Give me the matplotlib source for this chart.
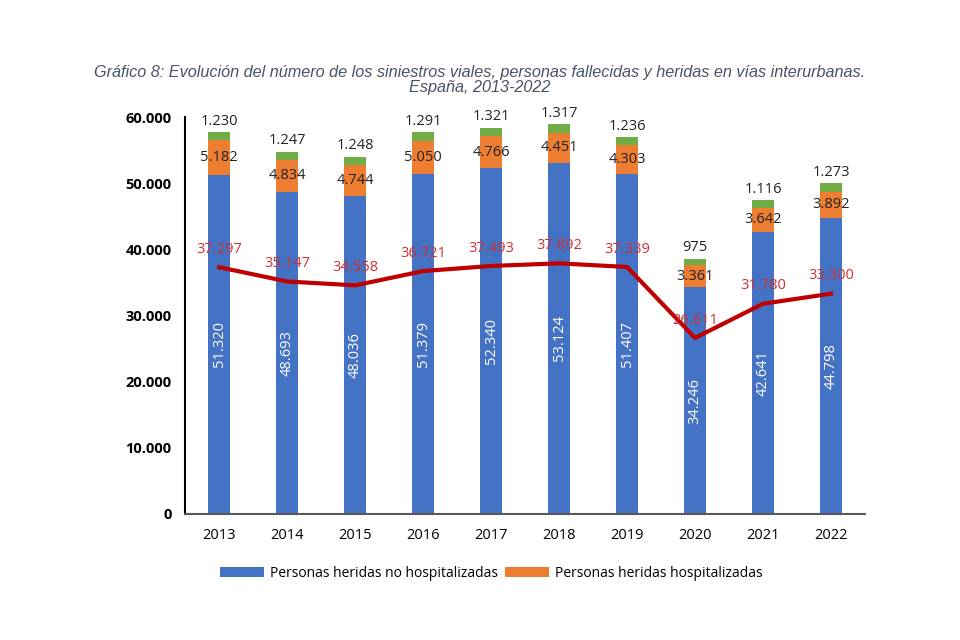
import matplotlib.pyplot as plt
from matplotlib.ticker import FuncFormatter

years = ["2013", "2014", "2015", "2016", "2017", "2018", "2019", "2020", "2021", "2022"]
no_hosp = [51320, 48693, 48036, 51379, 52340, 53124, 51407, 34246, 42641, 44798]
hosp = [5182, 4834, 4744, 5050, 4766, 4451, 4303, 3361, 3642, 3892]
fallecidas = [1230, 1247, 1248, 1291, 1321, 1317, 1236, 975, 1116, 1273]
siniestros = [37297, 35147, 34558, 36721, 37493, 37892, 37339, 26611, 31780, 33300]

BLUE = "#4472C4"
ORANGE = "#ED7D31"
GREEN = "#70AD47"
RED = "#C00000"


def miles(v):
    return f"{int(v):,}".replace(",", ".")


plt.rcParams["font.family"] = ["Open Sans", "DejaVu Sans"]

fig = plt.figure(figsize=(9.6, 6.4), dpi=100)
ax = fig.add_axes([0.193, 0.197, 0.708, 0.620])

x = list(range(len(years)))
w = 0.32
bottom2 = [a + b for a, b in zip(no_hosp, hosp)]
ax.bar(x, no_hosp, w, color=BLUE, label="Personas heridas no hospitalizadas")
ax.bar(x, hosp, w, bottom=no_hosp, color=ORANGE, label="Personas heridas hospitalizadas")
ax.bar(x, fallecidas, w, bottom=bottom2, color=GREEN)
ax.plot(x, siniestros, color=RED, lw=3, zorder=3)

for i in x:
    ax.text(i, no_hosp[i] / 2, miles(no_hosp[i]), rotation=90, color="white",
            ha="center", va="center", fontsize=10.5)
    ax.text(i, no_hosp[i] + hosp[i] / 2, miles(hosp[i]), color="#222222",
            ha="center", va="center", fontsize=10.5)
    ax.text(i, bottom2[i] + fallecidas[i] + 500, miles(fallecidas[i]), color="#222222",
            ha="center", va="bottom", fontsize=10.5)
    ax.text(i, siniestros[i] + 2700, miles(siniestros[i]), color="#D03030",
            ha="center", va="center", fontsize=10.5)

ax.set_xlim(-0.5, len(years) - 0.5)
ax.set_ylim(0, 60000)
ax.set_yticks(range(0, 60001, 10000))
ax.yaxis.set_major_formatter(FuncFormatter(lambda v, p: miles(v)))
ax.set_xticks(x)
ax.set_xticklabels(years)
ax.tick_params(axis="y", length=0, labelsize=10.5, pad=10)
ax.tick_params(axis="x", length=0, labelsize=10.5, pad=10)
for lab in ax.get_yticklabels():
    lab.set_fontweight("bold")
ax.spines["top"].set_visible(False)
ax.spines["right"].set_visible(False)
ax.spines["left"].set_color("black")
ax.spines["left"].set_linewidth(1.5)
ax.spines["bottom"].set_color("#595959")
ax.spines["bottom"].set_linewidth(1.5)

ax.legend(loc="upper center", bbox_to_anchor=(0.45, -0.1), ncols=2, frameon=False,
          fontsize=10, handlelength=3.2, handleheight=0.7, columnspacing=0.5,
          handletextpad=0.4)

fig.text(0.5, 0.875, "Gráfico 8: Evolución del número de los siniestros viales, personas fallecidas y heridas en vías interurbanas.\nEspaña, 2013-2022",
         ha="center", va="center", style="italic", fontsize=11.7, color="#485466",
         family=["Liberation Sans", "DejaVu Sans"], linespacing=1.05)

fig.savefig("out.png", dpi=100)
